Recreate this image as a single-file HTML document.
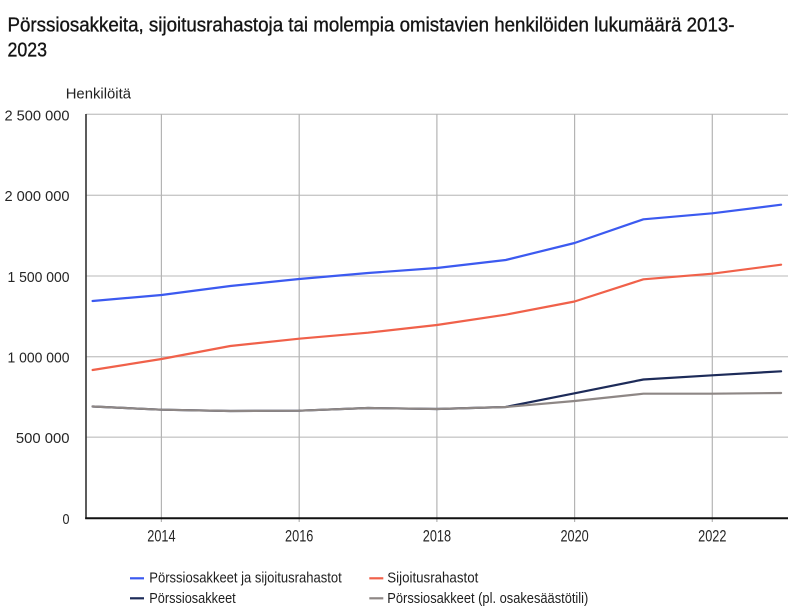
<!DOCTYPE html>
<html><head><meta charset="utf-8"><style>
html,body{margin:0;padding:0;background:#fff;}
svg{display:block;font-family:"Liberation Sans",sans-serif;}
</style></head><body>
<svg width="800" height="616" viewBox="0 0 800 616" xmlns="http://www.w3.org/2000/svg">
<rect width="800" height="616" fill="#fff"/>
<g stroke="#141414" stroke-width="0.35">
<text x="7.5" y="31.5" font-size="20" fill="#141414" textLength="727" lengthAdjust="spacingAndGlyphs">Pörssiosakkeita, sijoitusrahastoja tai molempia omistavien henkilöiden lukumäärä 2013-</text>
<text x="7.5" y="56.7" font-size="20" fill="#141414" textLength="39.5" lengthAdjust="spacingAndGlyphs">2023</text>
</g>
<text x="65.7" y="98.7" font-size="15" fill="#222" textLength="65.3" lengthAdjust="spacingAndGlyphs">Henkilöitä</text>
<g stroke="#c8c8c8" stroke-width="1.3">
<line x1="86" y1="114.3" x2="788" y2="114.3"/>
<line x1="86" y1="195.3" x2="788" y2="195.3"/>
<line x1="86" y1="276" x2="788" y2="276"/>
<line x1="86" y1="356.7" x2="788" y2="356.7"/>
<line x1="86" y1="437.2" x2="788" y2="437.2"/>
</g>
<g stroke="#b4b4b4" stroke-width="1.2">
<line x1="161.4" y1="114" x2="161.4" y2="522"/>
<line x1="299.2" y1="114" x2="299.2" y2="522"/>
<line x1="436.9" y1="114" x2="436.9" y2="522"/>
<line x1="574.6" y1="114" x2="574.6" y2="522"/>
<line x1="712.3" y1="114" x2="712.3" y2="522"/>
</g>
<line x1="86" y1="114" x2="86" y2="519" stroke="#333" stroke-width="1.6"/>
<line x1="85.2" y1="518.3" x2="788" y2="518.3" stroke="#111" stroke-width="2"/>
<g font-size="15" fill="#262626" text-anchor="end">
<text x="69.5" y="120.5" textLength="65" lengthAdjust="spacingAndGlyphs">2 500 000</text>
<text x="69.5" y="201" textLength="65" lengthAdjust="spacingAndGlyphs">2 000 000</text>
<text x="69.5" y="282" textLength="62" lengthAdjust="spacingAndGlyphs">1 500 000</text>
<text x="69.5" y="362.6" textLength="62" lengthAdjust="spacingAndGlyphs">1 000 000</text>
<text x="69.5" y="443.2" textLength="53.6" lengthAdjust="spacingAndGlyphs">500 000</text>
<text x="69.5" y="524" textLength="7" lengthAdjust="spacingAndGlyphs">0</text>
</g>
<g font-size="16.5" fill="#262626" text-anchor="middle">
<text x="161.4" y="541.7" textLength="28.3" lengthAdjust="spacingAndGlyphs">2014</text>
<text x="299.2" y="541.7" textLength="28.3" lengthAdjust="spacingAndGlyphs">2016</text>
<text x="436.9" y="541.7" textLength="28.3" lengthAdjust="spacingAndGlyphs">2018</text>
<text x="574.6" y="541.7" textLength="28.3" lengthAdjust="spacingAndGlyphs">2020</text>
<text x="712.3" y="541.7" textLength="28.3" lengthAdjust="spacingAndGlyphs">2022</text>
</g>
<g fill="none" stroke-width="2.2" stroke-linejoin="round" stroke-linecap="round">
<polyline stroke="#3c5af0" points="92.6,301 161.45,295 230.3,286 299.15,279 368,273 436.85,268 505.7,260 574.55,243 643.4,219.3 712.25,213.3 781.1,204.7"/>
<polyline stroke="#f0614a" points="92.6,370 161.45,359 230.3,346 299.15,338.7 368,332.7 436.85,325 505.7,314.7 574.55,301.5 643.4,279.3 712.25,273.7 781.1,264.7"/>
<polyline stroke="#1d2b59" points="92.6,406.5 161.45,409.7 230.3,411 299.15,410.7 368,408 436.85,409 505.7,407 574.55,393.3 643.4,379.5 712.25,375.3 781.1,371.3"/>
<polyline stroke="#8e8785" points="92.6,406.5 161.45,409.7 230.3,411 299.15,410.7 368,408 436.85,409 505.7,407 574.55,401 643.4,393.7 712.25,393.7 781.1,393"/>
</g>
<g stroke-width="2.2">
<line x1="130" y1="578.3" x2="144" y2="578.3" stroke="#3c5af0"/>
<line x1="130" y1="598.3" x2="144" y2="598.3" stroke="#1d2b59"/>
<line x1="369.3" y1="578.3" x2="383.3" y2="578.3" stroke="#f0614a"/>
<line x1="369.3" y1="598.3" x2="383.3" y2="598.3" stroke="#8e8785"/>
</g>
<g font-size="15" fill="#1e1e1e">
<text x="149.3" y="582.5" textLength="192.4" lengthAdjust="spacingAndGlyphs">Pörssiosakkeet ja sijoitusrahastot</text>
<text x="149.3" y="603" textLength="86.4" lengthAdjust="spacingAndGlyphs">Pörssiosakkeet</text>
<text x="387.3" y="582.5" textLength="91" lengthAdjust="spacingAndGlyphs">Sijoitusrahastot</text>
<text x="387.3" y="603" textLength="201" lengthAdjust="spacingAndGlyphs">Pörssiosakkeet (pl. osakesäästötili)</text>
</g>
</svg>
</body></html>
